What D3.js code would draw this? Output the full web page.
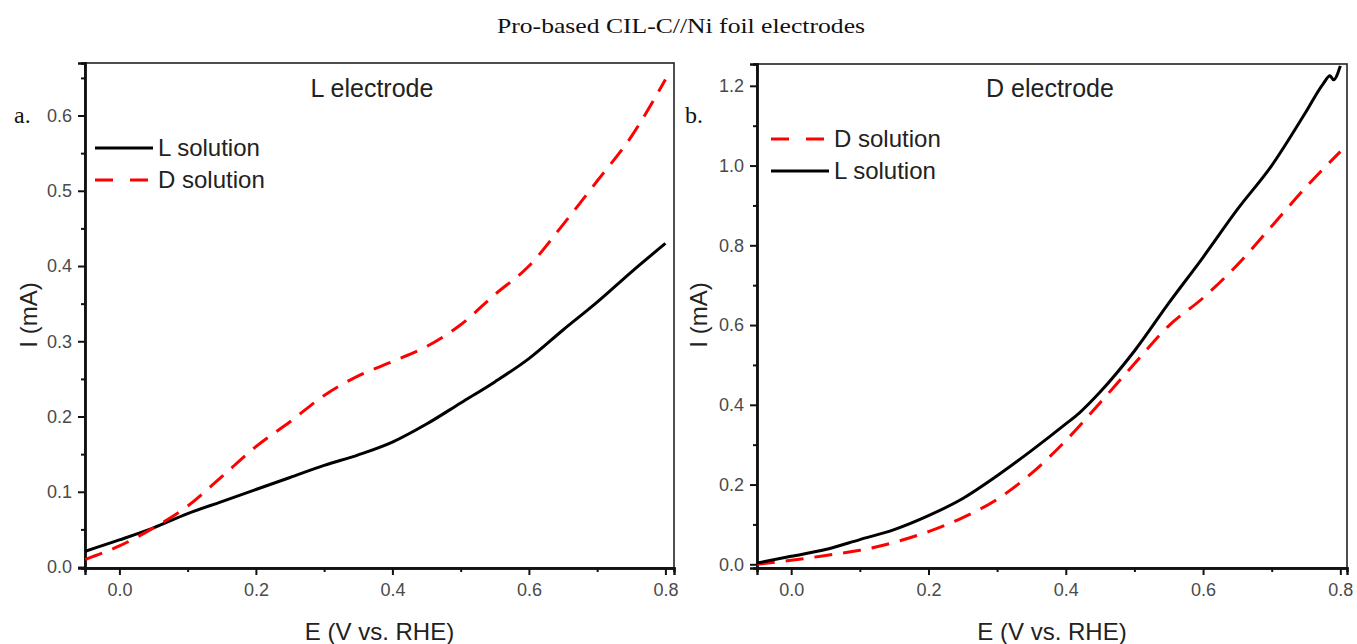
<!DOCTYPE html>
<html><head><meta charset="utf-8">
<script src="https://cdn.jsdelivr.net/npm/d3@7"></script>
<style>
body{margin:0;background:#fff;}
svg text{font-family:"Liberation Sans",Arial,sans-serif;}
</style></head>
<body><svg id="c" width="1357" height="644"></svg>
<script>
// ---- data ----
const voltage = [-0.05,0.0,0.05,0.1,0.15,0.2,0.25,0.3,0.35,0.4,0.45,0.5,0.55,0.6,0.65,0.7,0.75,0.8];
const leftL = [0.021,0.036,0.052,0.071,0.087,0.103,0.119,0.135,0.149,0.166,0.19,0.218,0.246,0.277,0.315,0.352,0.392,0.43];
const leftD = [0.010,0.028,0.052,0.081,0.120,0.160,0.193,0.228,0.254,0.273,0.293,0.322,0.362,0.400,0.455,0.513,0.572,0.648];
const voltageRL = [-0.05,0.0,0.05,0.1,0.15,0.2,0.25,0.3,0.35,0.4,0.42,0.45,0.5,0.55,0.6,0.65,0.7,0.75,0.775,0.785,0.79,0.8];
const rightL = [0.003,0.02,0.037,0.062,0.087,0.122,0.165,0.222,0.285,0.352,0.38,0.432,0.535,0.655,0.77,0.89,1.0,1.135,1.205,1.225,1.215,1.25];
const rightD = [0.0,0.01,0.022,0.035,0.055,0.082,0.117,0.163,0.228,0.31,0.405,0.503,0.598,0.668,0.751,0.848,0.946,1.035];
const xTicks = [0.0,0.2,0.4,0.6,0.8];
const xMinor = [0.1,0.3,0.5,0.7];
const yTicksL = [0.0,0.1,0.2,0.3,0.4,0.5,0.6];
const yMinorL = [0.05,0.15,0.25,0.35,0.45,0.55,0.65];
const yTicksR = [0.0,0.2,0.4,0.6,0.8,1.0,1.2];
const yMinorR = [0.1,0.3,0.5,0.7,0.9,1.1];

const svg = d3.select("#c");
svg.append("text").attr("x",681).attr("y",33).attr("text-anchor","middle")
  .style("font-family","'Liberation Serif',serif").style("font-size","21px").attr("fill","#111")
  .attr("textLength",368).attr("lengthAdjust","spacingAndGlyphs")
  .text("Pro-based CIL-C//Ni foil electrodes");

function panel(o){
  const g = svg.append("g");
  const x = d3.scaleLinear().domain(o.xd).range([o.x0,o.x1]);
  const y = d3.scaleLinear().domain(o.yd).range([o.y1,o.y0]);
  g.append("rect").attr("x",o.x0).attr("y",o.y0).attr("width",o.x1-o.x0).attr("height",o.y1-o.y0)
    .attr("fill","none").attr("stroke","#222").attr("stroke-width",1.6);
  const ax = g.append("g").attr("transform",`translate(0,${o.y1})`)
    .call(d3.axisBottom(x).tickValues(xTicks).tickFormat(d3.format(".1f")).tickSize(7).tickPadding(8));
  const axm = g.append("g").attr("transform",`translate(0,${o.y1})`)
    .call(d3.axisBottom(x).tickValues(xMinor).tickFormat("").tickSize(4));
  const ay = g.append("g").attr("transform",`translate(${o.x0},0)`)
    .call(d3.axisLeft(y).tickValues(o.yt).tickFormat(d3.format(".1f")).tickSize(7).tickPadding(6));
  const aym = g.append("g").attr("transform",`translate(${o.x0},0)`)
    .call(d3.axisLeft(y).tickValues(o.ym).tickFormat("").tickSize(4));
  [ax,axm,ay,aym].forEach(a=>{
    a.select(".domain").attr("stroke","#111").attr("stroke-width",2.4);
    a.selectAll(".tick line").attr("stroke","#111").attr("stroke-width",2);
    a.selectAll(".tick text").attr("fill","#4a4a4a").style("font-size","18px");
  });
  const clipId = "clip"+o.id;
  svg.append("clipPath").attr("id",clipId).append("rect")
    .attr("x",o.x0).attr("y",o.y0-2).attr("width",o.x1-o.x0).attr("height",o.y1-o.y0+2);
  const line = d3.line().x(d=>x(d[0])).y(d=>y(d[1])).curve(d3.curveMonotoneX);
  o.series.forEach(s=>{
    g.append("path").datum(d3.zip(s.xs,s.ys)).attr("d",line).attr("fill","none")
      .attr("stroke",s.color).attr("stroke-width",3).attr("clip-path",`url(#${clipId})`)
      .attr("stroke-dasharray",s.dash?"18,11":null);
  });
  o.series.forEach((s,i)=>{
    const ly = o.legY[i];
    g.append("line").attr("x1",o.legX).attr("x2",o.legX+58).attr("y1",ly).attr("y2",ly)
      .attr("stroke",s.color).attr("stroke-width",3.2).attr("stroke-dasharray",s.dash?"18,17":null);
    g.append("text").attr("x",o.legX+63).attr("y",ly+8).attr("fill","#222").style("font-size","24px").text(s.name);
  });
  g.append("text").attr("x",o.titleX).attr("y",97).attr("text-anchor","middle").attr("fill","#222")
    .style("font-size","25px").text(o.title);
  g.append("text").attr("x",(o.x0+o.x1)/2).attr("y",640).attr("text-anchor","middle").attr("fill","#222")
    .style("font-size","24px").text("E (V vs. RHE)");
  g.append("text").attr("transform",`translate(${o.yTitleX},${o.yTitleY}) rotate(-90)`).attr("text-anchor","middle")
    .attr("fill","#222").style("font-size","24px").text("I (mA)");
  g.append("text").attr("x",o.labX).attr("y",123).style("font-family","'Liberation Serif',serif")
    .style("font-size","24px").attr("fill","#111").text(o.lab);
}

panel({id:"a",x0:85,x1:674,y0:63,y1:568,xd:[-0.0504,0.8126],yd:[-0.0013,0.6698],
  yt:yTicksL,ym:yMinorL,title:"L electrode",titleX:372,yTitleX:37,yTitleY:315,labX:14,lab:"a.",
  legX:95,legY:[148,180],
  series:[{name:"L solution",xs:voltage,ys:leftL,color:"#000",dash:false},
          {name:"D solution",xs:voltage,ys:leftD,color:"#ff0000",dash:true}]});
panel({id:"b",x0:757,x1:1347,y0:64,y1:568,xd:[-0.0498,0.8097],yd:[-0.0093,1.2547],
  yt:yTicksR,ym:yMinorR,title:"D electrode",titleX:1050,yTitleX:707,yTitleY:315,labX:685,lab:"b.",
  legX:771,legY:[139,171],
  series:[{name:"D solution",xs:voltage,ys:rightD,color:"#ff0000",dash:true},
          {name:"L solution",xs:voltageRL,ys:rightL,color:"#000",dash:false}]});
</script></body></html>
